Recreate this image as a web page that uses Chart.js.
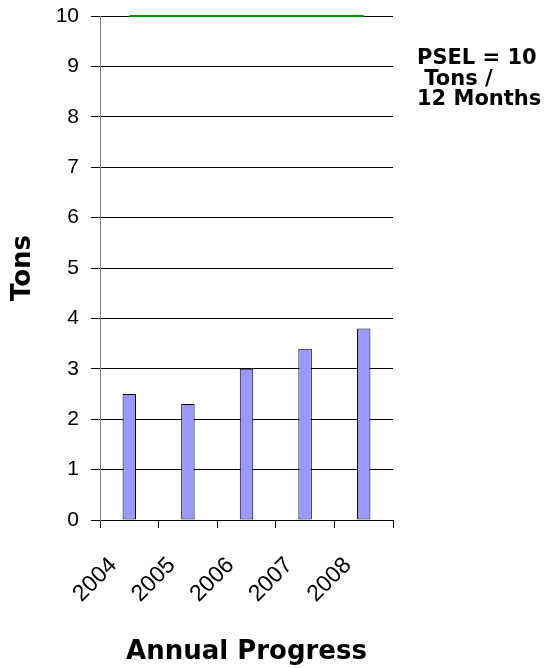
<!DOCTYPE html>
<html>
<head>
<meta charset="utf-8">
<script src="https://cdn.jsdelivr.net/npm/chart.js@4/dist/chart.umd.min.js"></script>
<style>
  html, body { margin: 0; padding: 0; background: #fff; }
  #wrap { width: 551px; height: 668px; position: relative; }
</style>
</head>
<body>
<div id="wrap"><canvas id="tonsChart" width="551" height="668"></canvas></div>
<script>
// data
const years = ["2004", "2005", "2006", "2007", "2008"];
const tons = [2.5, 2.3, 3.0, 3.4, 3.8];
const psel = [10, 10, 10, 10, 10];
const noteLines = ["PSEL = 10", " Tons /", "12 Months"];

// side note next to the plot
const notePlugin = {
    id: "pselNote",
    afterDraw(chart) {
        let ctx = chart.ctx;
        ctx.save();
        ctx.fillStyle = "#000";
        ctx.font = "bold 21px 'DejaVu Sans'";
        ctx.textAlign = "left";
        ctx.textBaseline = "middle";
        noteLines.forEach((t, i) => {
            ctx.fillText(t, 417, 59 + i * 20.5);
        });
        ctx.restore();
    }
};

new Chart(document.getElementById("tonsChart"), {
    type: "bar",
    data: {
        labels: years,
        datasets: [
            {
                type: "line",
                label: "PSEL",
                data: psel,
                borderColor: "#009400",
                borderWidth: 2,
                pointRadius: 0,
                fill: false,
                clip: false,
                order: 0
            },
            {
                label: "Tons",
                data: tons,
                backgroundColor: "#9999ff",
                borderColor: "#000",
                borderWidth: 1,
                borderSkipped: false,
                barPercentage: 0.46,
                categoryPercentage: 0.5,
                order: 1
            }
        ]
    },
    options: {
        responsive: false,
        animation: false,
        layout: { padding: { top: 16, right: 158, left: 0, bottom: 0 } },
        plugins: {
            legend: { display: false },
            tooltip: { enabled: false }
        },
        scales: {
            x: {
                afterFit(scale) { scale.height = 148; },
                grid: {
                    drawOnChartArea: false,
                    drawTicks: true,
                    tickLength: 8,
                    color: "#000",
                    offset: true
                },
                border: { color: "#000" },
                ticks: {
                    color: "#000",
                    font: { family: "'Liberation Sans', Arial", size: 23 },
                    minRotation: 45,
                    maxRotation: 45,
                    padding: 24,
                    labelOffset: -16
                },
                title: {
                    display: true,
                    text: "Annual Progress",
                    color: "#000",
                    font: { family: "'DejaVu Sans'", size: 26, weight: "bold" },
                    padding: { top: 0, bottom: 0 }
                }
            },
            y: {
                min: 0,
                max: 10,
                afterFit(scale) {
                    scale.width = 100;
                    // the top label may hang over the plot edge
                    scale.paddingTop = 0;
                    scale.paddingBottom = 0;
                },
                ticks: {
                    stepSize: 1,
                    color: "#000",
                    font: { family: "'Liberation Sans', Arial", size: 21 },
                    padding: 12
                },
                grid: {
                    color: "#000",
                    lineWidth: 1,
                    tickLength: 9
                },
                border: { color: "#808080" },
                title: {
                    display: true,
                    text: "Tons",
                    color: "#000",
                    font: { family: "'DejaVu Sans'", size: 26, weight: "bold" },
                    padding: { top: 8, bottom: 0 }
                }
            }
        }
    },
    plugins: [notePlugin]
});
</script>
</body>
</html>
